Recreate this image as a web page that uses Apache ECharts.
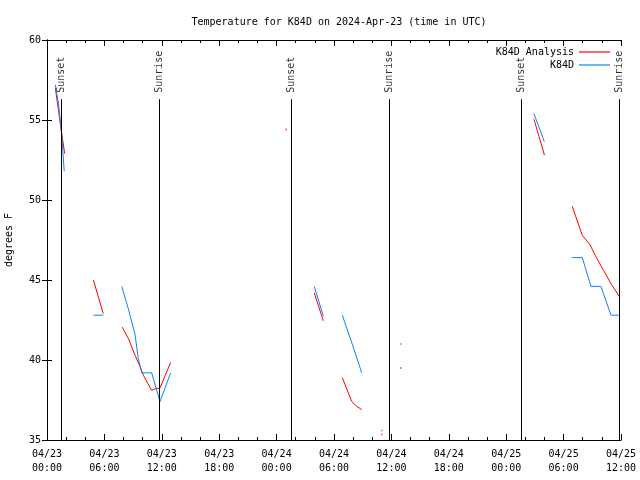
<!DOCTYPE html>
<html><head><meta charset="utf-8">
<script src="https://cdn.jsdelivr.net/npm/echarts@6/dist/echarts.min.js"></script>
<style>html,body{margin:0;padding:0;background:#fff}#c{width:640px;height:480px}</style>
</head><body><div id="c"></div>
<script>
// hours since 2024-04-23 00:00 UTC
const tickLabels = ['04/23\n00:00','04/23\n06:00','04/23\n12:00','04/23\n18:00','04/24\n00:00','04/24\n06:00','04/24\n12:00','04/24\n18:00','04/25\n00:00','04/25\n06:00','04/25\n12:00'];
const sunTimes = [1.49, 11.74, 25.54, 35.78, 49.62, 59.8];
const sunNames = ['Sunset','Sunrise','Sunset','Sunrise','Sunset','Sunrise'];

const analysisSegments = [
  [[0.87,57.0],[1.2,55.6],[1.5,54.3],[1.85,52.9]],
  [[4.85,45.0],[5.88,42.9]],
  [[7.87,42.05],[8.5,41.35],[9.2,40.3],[9.72,39.6],[10.07,39.05],[10.94,38.1],[11.29,38.2],[11.81,38.25],[12.93,39.85]],
  [[27.94,44.2],[28.88,42.45]],
  [[30.87,38.9],[31.86,37.4],[32.38,37.1],[32.9,36.9]],
  [[50.9,55.05],[52.0,52.8]],
  [[54.9,49.6],[55.95,47.8],[56.76,47.2],[57.3,46.55],[58.17,45.6],[59.03,44.7],[59.9,43.9]]
];
const observedSegments = [
  [[0.87,57.2],[1.2,56.0],[1.5,54.4],[1.8,51.8]],
  [[4.85,42.8],[5.88,42.8]],
  [[7.81,44.6],[8.5,43.2],[9.2,41.6],[9.54,40.1],[9.9,39.2],[10.94,39.2],[11.81,37.4],[12.93,39.2]],
  [[27.94,44.6],[28.88,42.75]],
  [[30.87,42.8],[31.9,41.0],[32.9,39.2]],
  [[50.9,55.4],[51.98,53.65]],
  [[54.9,46.4],[55.95,46.4],[56.86,44.6],[57.9,44.6],[58.95,42.8],[59.9,42.8]]
];
const analysisIsolated = [[25,54.4],[35,35.35],[37,39.5]];
const observedIsolated = [[35,35.6],[37,41.0]];

const RED = '#ff0000', BLUE = '#1080ff';
const FONT = 'DejaVu Sans Mono';

function joinSegs(segs){
  const out = [];
  segs.forEach((s,i)=>{ if(i) out.push([s[0][0]-0.05,'-']); s.forEach(p=>out.push(p)); });
  return out;
}

const axisCommon = {
  min: 0, max: 60, interval: 6,
  axisLine: {lineStyle:{color:'#000', width:1}},
  axisTick: {inside:true, length:6, lineStyle:{color:'#000'}},
  minorTick: {show:true, splitNumber:3, length:3, lineStyle:{color:'#000'}},
  splitLine: {show:false}
};
const yCommon = {
  type:'value', min:35, max:60, interval:5,
  axisLine: {show:true, lineStyle:{color:'#000', width:1}},
  axisTick: {show:true, inside:true, length:5, lineStyle:{color:'#000'}},
  splitLine: {show:false}
};

const chart = echarts.init(document.getElementById('c'));
chart.setOption({
  animation:false,
  backgroundColor:'#fff',
  title:{text:'Temperature for K84D on 2024-Apr-23 (time in UTC)', left:334, top:12, textAlign:'center',
    textStyle:{fontFamily:FONT, fontSize:10, fontWeight:'normal', color:'#000'}},
  grid:{left:47, right:19, top:40, bottom:40, containLabel:false, outerBoundsMode:'none'},
  legend:{data:['K84D Analysis','K84D'], orient:'vertical', right:25, top:42, align:'right',
    icon:'rect', itemWidth:31, itemHeight:1.2, itemGap:3,
    textStyle:{fontFamily:FONT, fontSize:10, color:'#000'}},
  xAxis:[
    Object.assign({type:'value', position:'bottom',
      axisLabel:{fontFamily:FONT, fontSize:10, color:'#000', lineHeight:14, margin:7,
        formatter:v=>tickLabels[Math.round(v/6)]}}, axisCommon),
    Object.assign({type:'value', position:'top', axisLabel:{show:false}}, axisCommon)
  ],
  yAxis:[
    Object.assign({position:'left', name:'degrees F', nameLocation:'middle', nameGap:33, nameRotate:90,
      nameTextStyle:{fontFamily:FONT, fontSize:10, color:'#000'},
      axisLabel:{fontFamily:FONT, fontSize:10, color:'#000', margin:6}}, yCommon),
    Object.assign({position:'right', axisLabel:{show:false}}, yCommon)
  ],
  series:[
    {name:'K84D Analysis', type:'line', data:joinSegs(analysisSegments), showSymbol:false, symbol:'none',
      connectNulls:false, lineStyle:{color:RED, width:1}, itemStyle:{color:RED}},
    {name:'K84D', type:'line', data:joinSegs(observedSegments), showSymbol:false, symbol:'none',
      connectNulls:false, lineStyle:{color:BLUE, width:1}, itemStyle:{color:BLUE}},
    {name:'aIso', type:'scatter', data:analysisIsolated, symbol:'rect', symbolSize:1.5, itemStyle:{color:RED}, silent:true},
    {name:'oIso', type:'scatter', data:observedIsolated, symbol:'rect', symbolSize:1.5, itemStyle:{color:BLUE}, silent:true},
    {name:'sun', type:'scatter', silent:true, symbolSize:0,
      data: sunTimes.map((t,i)=>[t,56.7,sunNames[i]]),
      label:{show:true, position:'inside', rotate:90, align:'left', verticalAlign:'middle',
        fontFamily:FONT, fontSize:10, color:'#000', formatter:p=>p.data[2]},
      markLine:{silent:true, symbol:['none','none'], label:{show:false},
        lineStyle:{color:'#000', width:1, type:'solid'},
        data: sunTimes.map(t=>[{coord:[t,35]},{coord:[t,56.3]}])}
    }
  ]
});
</script></body></html>
